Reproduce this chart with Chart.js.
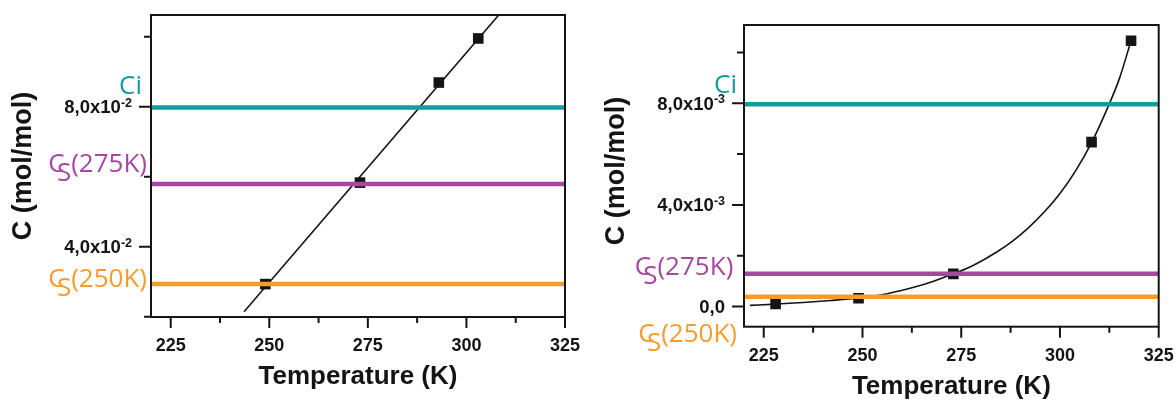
<!DOCTYPE html>
<html>
<head>
<meta charset="utf-8">
<script src="https://cdn.jsdelivr.net/npm/chart.js@4.4.1/dist/chart.umd.min.js"></script>
<style>
  html, body { margin: 0; padding: 0; background: #fff; }
  #wrap { position: relative; width: 1176px; height: 400px; }
  .panel { position: absolute; top: 0; width: 588px; height: 400px; }
</style>
</head>
<body>
<div id="wrap">
  <div class="panel" style="left:0"><canvas id="leftChart"></canvas></div>
  <div class="panel" style="left:588px"><canvas id="rightChart"></canvas></div>
</div>
<script>
// --- shared x axis
const xMin = 220;
const xMax = 325;
const xMajorTicks = [225, 250, 275, 300, 325];
const xMinorTicks = [237.5, 262.5, 287.5, 312.5];

// --- left panel data
const leftTemps = [249, 273, 293, 303];
const leftConc = [0.0293, 0.0583, 0.0869, 0.0995];
const leftFitTemps = [243.6, 308.2];
const leftFitConc = [0.0214, 0.1062];
const leftCi = 0.0798;
const leftCs275 = 0.0579;
const leftCs250 = 0.0293;
const leftYMin = 0.0199;
const leftYMax = 0.1062;
const leftYMajor = [0.04, 0.08];
const leftYMinor = [0.02, 0.06, 0.10];
const leftYLabelText = ['4,0x10', '8,0x10'];
const leftYLabelExp = ['-2', '-2'];

// --- right panel data
const rightTemps = [228, 249, 273, 308, 318];
const rightConc = [0.00011, 0.00033, 0.00129, 0.00647, 0.01046];
const rightFitTemps = [221.5, 228, 235, 242, 249, 256, 263, 268, 273, 278, 284, 288, 292, 296, 300, 304, 308, 312, 315, 318];
const rightFitConc = [0.00005, 0.0001, 0.00016, 0.00024, 0.00034, 0.0005, 0.00076, 0.001, 0.00129, 0.00162, 0.00215, 0.00258, 0.0031, 0.00372, 0.00445, 0.00535, 0.00645, 0.0078, 0.00895, 0.01046];
const rightCi = 0.00796;
const rightCs275 = 0.00129;
const rightCs250 = 0.00039;
const rightYMin = -0.00079;
const rightYMax = 0.01108;
const rightYMajor = [0, 0.004, 0.008];
const rightYMinor = [0.002, 0.006, 0.010];
const rightYLabelText = ['0,0', '4,0x10', '8,0x10'];
const rightYLabelExp = ['', '-3', '-3'];

const TEAL = '#129c9f';
const MAGENTA = '#a8479f';
const ORANGE = '#f59d2c';
const INK = '#141414';

const BOLD = '"Liberation Sans", Arial, sans-serif';
const THIN = '"Open Sans", "Noto Sans", sans-serif';

function pts(xs, ys) {
  return xs.map((x, i) => ({ x, y: ys[i] }));
}

function hline(value, color) {
  return {
    data: [{ x: xMin, y: value }, { x: xMax, y: value }],
    showLine: true,
    borderColor: color,
    borderWidth: 4.5,
    pointRadius: 0,
  };
}

// C with subscript S, then the rest, right-aligned at xr
function drawLabel(ctx, xr, base, head, sub, rest, color) {
  ctx.save();
  ctx.font = `400 26px ${THIN}`;
  ctx.fillStyle = color;
  ctx.textAlign = 'left';
  ctx.textBaseline = 'alphabetic';
  const wHead = ctx.measureText(head).width;
  const wSub = sub ? ctx.measureText(sub).width : 0;
  const wRest = ctx.measureText(rest).width;
  const tuck = sub ? wHead * 0.48 : 0;
  const total = wHead - tuck + wSub + wRest;
  let x = xr - total;
  ctx.fillText(head, x, base);
  x += wHead - tuck;
  if (sub) {
    ctx.fillText(sub, x, base + 9);
    x += wSub;
  }
  ctx.fillText(rest, x, base);
  ctx.restore();
}

const decor = {
  id: 'decor',
  afterDraw(chart) {
    const p = chart.options.plugins.decor;
    const { ctx, chartArea: a } = chart;
    const xs = chart.scales.x;
    const ys = chart.scales.y;

    ctx.save();
    ctx.strokeStyle = INK;
    ctx.lineWidth = 2;
    ctx.strokeRect(a.left, a.top, a.right - a.left, a.bottom - a.top);

    ctx.beginPath();
    xMajorTicks.forEach((v) => {
      const px = xs.getPixelForValue(v);
      ctx.moveTo(px, a.bottom); ctx.lineTo(px, a.bottom + 11);
    });
    xMinorTicks.forEach((v) => {
      const px = xs.getPixelForValue(v);
      ctx.moveTo(px, a.bottom); ctx.lineTo(px, a.bottom + 6);
    });
    p.yMajor.forEach((v) => {
      const py = ys.getPixelForValue(v);
      ctx.moveTo(a.left, py); ctx.lineTo(a.left - 12, py);
    });
    p.yMinor.forEach((v) => {
      const py = ys.getPixelForValue(v);
      ctx.moveTo(a.left, py); ctx.lineTo(a.left - 7, py);
    });
    ctx.stroke();

    // x tick labels
    ctx.fillStyle = INK;
    ctx.font = `bold 18px ${BOLD}`;
    ctx.textAlign = 'center';
    ctx.textBaseline = 'alphabetic';
    xMajorTicks.forEach((v) => {
      ctx.fillText(String(v), xs.getPixelForValue(v), a.bottom + 34);
    });

    // y tick labels with superscript exponent
    const xr = a.left - 19;
    p.yMajor.forEach((v, i) => {
      const base = ys.getPixelForValue(v) + 6.5;
      const exp = p.yExp[i];
      ctx.textAlign = 'right';
      ctx.font = `bold 12.5px ${BOLD}`;
      const wExp = exp ? ctx.measureText(exp).width : 0;
      if (exp) ctx.fillText(exp, xr, base - 6.5);
      ctx.font = `bold 18.5px ${BOLD}`;
      ctx.fillText(p.yText[i], xr - wExp, base);
    });

    // axis titles
    ctx.font = `bold 26px ${BOLD}`;
    ctx.textAlign = 'center';
    ctx.fillText('Temperature (K)', (a.left + a.right) / 2, a.bottom + 67);

    ctx.save();
    ctx.translate(a.left - 127, p.yTitleY);
    ctx.rotate(-Math.PI / 2);
    ctx.font = `bold 27px ${BOLD}`;
    ctx.textBaseline = 'middle';
    ctx.fillText('C (mol/mol)', 0, 0);
    ctx.restore();
    ctx.restore();

    // coloured line labels
    p.labels.forEach((l) => {
      drawLabel(ctx, a.left - l.gap, ys.getPixelForValue(l.value) + l.dy, l.head, l.sub, l.rest, l.color);
    });
  },
};

function makeChart(id, cfg) {
  return new Chart(document.getElementById(id), {
    type: 'scatter',
    data: {
      datasets: [
        hline(cfg.ci, TEAL),
        hline(cfg.cs275, MAGENTA),
        hline(cfg.cs250, ORANGE),
        {
          data: pts(cfg.temps, cfg.conc),
          pointStyle: 'rect',
          pointRadius: 7.5,
          backgroundColor: INK,
          borderColor: INK,
          borderWidth: 0,
        },
        {
          data: pts(cfg.fitTemps, cfg.fitConc),
          showLine: true,
          borderColor: INK,
          borderWidth: 1.6,
          pointRadius: 0,
          tension: 0.4,
          cubicInterpolationMode: 'monotone',
        },
      ],
    },
    options: {
      responsive: true,
      maintainAspectRatio: false,
      animation: false,
      events: [],
      layout: { padding: { top: cfg.padTop, right: cfg.padRight, left: 0, bottom: 0 } },
      plugins: {
        legend: { display: false },
        tooltip: { enabled: false },
        decor: {
          yMajor: cfg.yMajor,
          yMinor: cfg.yMinor,
          yText: cfg.yText,
          yExp: cfg.yExp,
          yTitleY: cfg.yTitleY,
          labels: cfg.labels,
        },
      },
      scales: {
        x: {
          type: 'linear', min: xMin, max: xMax,
          grid: { display: false }, border: { display: false }, ticks: { display: false },
          afterFit(s) { s.height = cfg.xHeight; },
        },
        y: {
          type: 'linear', min: cfg.yMin, max: cfg.yMax,
          grid: { display: false }, border: { display: false }, ticks: { display: false },
          afterFit(s) { s.width = cfg.yWidth; },
        },
      },
    },
    plugins: [decor],
  });
}

makeChart('leftChart', {
  temps: leftTemps, conc: leftConc,
  fitTemps: leftFitTemps, fitConc: leftFitConc,
  ci: leftCi, cs275: leftCs275, cs250: leftCs250,
  yMin: leftYMin, yMax: leftYMax,
  yMajor: leftYMajor, yMinor: leftYMinor, yText: leftYLabelText, yExp: leftYLabelExp,
  padTop: 15, padRight: 23, xHeight: 83, yWidth: 151, yTitleY: 166,
  labels: [
    { value: leftCi, dy: -13, gap: 9, head: 'Ci', sub: '', rest: '', color: TEAL },
    { value: leftCs275, dy: -12, gap: 4, head: 'C', sub: 'S', rest: '(275K)', color: MAGENTA },
    { value: leftCs250, dy: 3, gap: 4, head: 'C', sub: 'S', rest: '(250K)', color: ORANGE },
  ],
});

makeChart('rightChart', {
  temps: rightTemps, conc: rightConc,
  fitTemps: rightFitTemps, fitConc: rightFitConc,
  ci: rightCi, cs275: rightCs275, cs250: rightCs250,
  yMin: rightYMin, yMax: rightYMax,
  yMajor: rightYMajor, yMinor: rightYMinor, yText: rightYLabelText, yExp: rightYLabelExp,
  padTop: 25, padRight: 17.3, xHeight: 73.3, yWidth: 156, yTitleY: 171,
  labels: [
    { value: rightCi, dy: -11, gap: 7, head: 'Ci', sub: '', rest: '', color: TEAL },
    { value: rightCs275, dy: 1, gap: 10.7, head: 'C', sub: 'S', rest: '(275K)', color: MAGENTA },
    { value: rightCs250, dy: 45, gap: 7, head: 'C', sub: 'S', rest: '(250K)', color: ORANGE },
  ],
});
</script>
</body>
</html>
